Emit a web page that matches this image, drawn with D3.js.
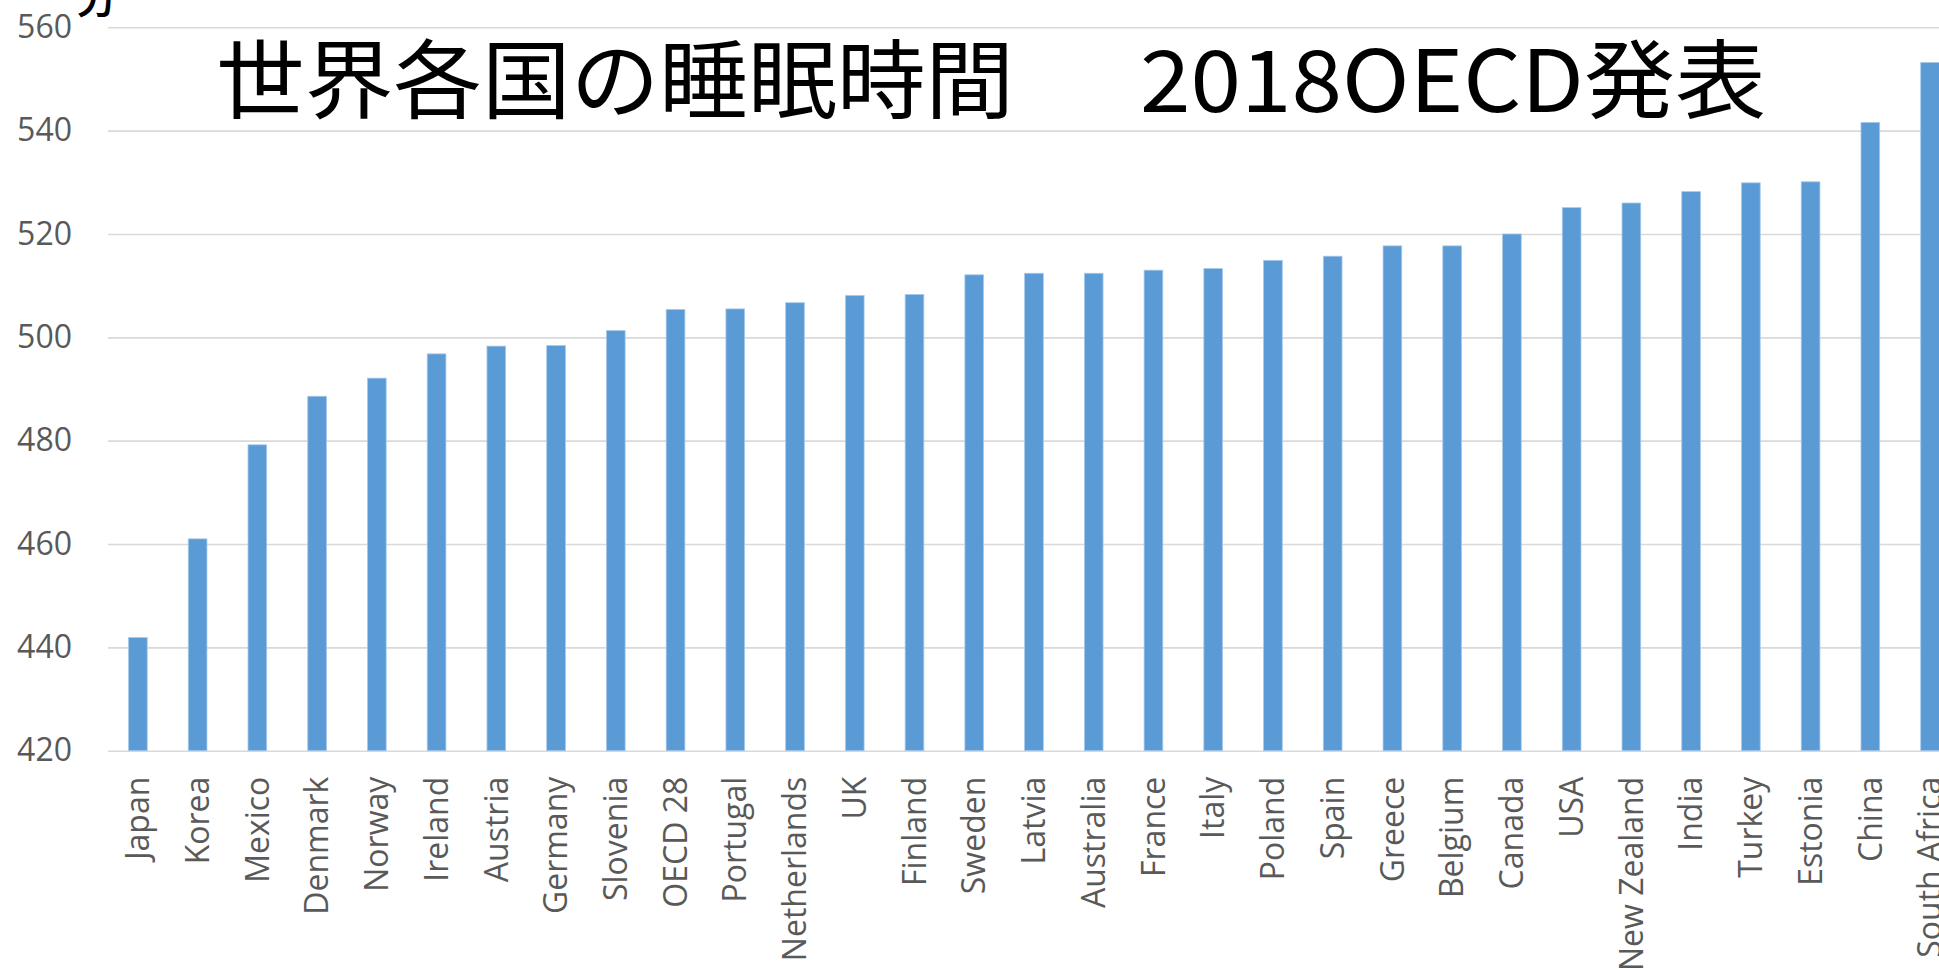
<!DOCTYPE html>
<html>
<head>
<meta charset="utf-8">
<script src="https://cdn.jsdelivr.net/npm/d3@7"></script>
<style>
  html, body { margin: 0; padding: 0; background: #fff; overflow: hidden; }
  svg { display: block; }
</style>
</head>
<body>
<svg id="chart"></svg>
<script>
const countries = [
  "Japan", "Korea", "Mexico", "Denmark", "Norway", "Ireland", "Austria", "Germany",
  "Slovenia", "OECD 28", "Portugal", "Netherlands", "UK", "Finland", "Sweden", "Latvia",
  "Australia", "France", "Italy", "Poland", "Spain", "Greece", "Belgium", "Canada",
  "USA", "New Zealand", "India", "Turkey", "Estonia", "China", "South Africa",
];
const sleepMinutes = [
  441.9, 461.0, 479.2, 488.6, 492.1, 496.8, 498.3, 498.4,
  501.3, 505.4, 505.5, 506.7, 508.1, 508.3, 512.1, 512.4,
  512.4, 513.0, 513.3, 514.9, 515.7, 517.7, 517.7, 520.0,
  525.1, 526.0, 528.2, 529.9, 530.1, 541.6, 553.2,
];
const yTicks = [420, 440, 460, 480, 500, 520, 540, 560];
const titleMain = "世界各国の睡眠時間";
const titleSub = "2018OECD発表";
const unitLabel = "分";

const width = 1939;
const height = 970;
const plotLeft = 108;
const plotTop = 27.3;
const plotBottom = 750.7;
const step = 59.74;

const svg = d3.select("#chart").attr("width", width).attr("height", height);

const x = d3
  .scaleBand()
  .domain(countries)
  .range([plotLeft, plotLeft + step * countries.length])
  .paddingInner(0.687)
  .paddingOuter(0.3435);

const y = d3.scaleLinear().domain([420, 560]).range([plotBottom, plotTop]);

// gridlines + value labels
const yAxis = svg
  .append("g")
  .attr("transform", `translate(${plotLeft},0)`)
  .call(
    d3.axisLeft(y)
      .tickValues(yTicks)
      .tickSize(-(width - plotLeft))
      .tickPadding(36)
      .tickFormat(d3.format("d")),
  );

yAxis.select(".domain").remove();
yAxis.selectAll(".tick line").attr("stroke", "#d9d9d9").attr("stroke-width", 1.6);
yAxis
  .selectAll(".tick text")
  .attr("fill", "#595959")
  .style("font-family", "'Open Sans', 'Noto Sans', sans-serif")
  .style("font-size", "32px");

// bars
svg
  .append("g")
  .selectAll("rect")
  .data(countries)
  .join("rect")
  .attr("x", (d) => x(d))
  .attr("width", x.bandwidth())
  .attr("y", (d, i) => y(sleepMinutes[i]))
  .attr("height", (d, i) => y(420) - y(sleepMinutes[i]))
  .attr("fill", "#5b9bd5")
  .attr("stroke", "#a8c9ea")
  .attr("stroke-width", 0.8);

// category labels
const xAxis = svg
  .append("g")
  .attr("transform", `translate(0,${plotBottom})`)
  .call(d3.axisBottom(x).tickSize(0).tickPadding(0));

xAxis.select(".domain").remove();
xAxis
  .selectAll(".tick text")
  .attr("transform", "rotate(-90)")
  .attr("text-anchor", "end")
  .attr("x", -26)
  .attr("y", 0)
  .attr("dy", "0.35em")
  .attr("fill", "#595959")
  .style("font-family", "'Open Sans', 'Noto Sans', sans-serif")
  .style("font-size", "32px");

// title
const titleFont = "'Noto Sans CJK JP', 'Noto Sans CJK SC', sans-serif";

svg
  .append("text")
  .attr("x", 216)
  .attr("y", 112)
  .attr("textLength", 798)
  .attr("lengthAdjust", "spacingAndGlyphs")
  .style("font-family", titleFont)
  .style("font-size", "86px")
  .attr("fill", "#000")
  .text(titleMain);

svg
  .append("text")
  .attr("x", 1140)
  .attr("y", 112)
  .attr("textLength", 626)
  .attr("lengthAdjust", "spacingAndGlyphs")
  .style("font-family", titleFont)
  .style("font-size", "86px")
  .attr("fill", "#000")
  .text(titleSub);

// unit label, cut off at the top edge
svg
  .append("text")
  .attr("x", 97)
  .attr("y", 13)
  .attr("text-anchor", "middle")
  .style("font-family", titleFont)
  .style("font-size", "44px")
  .style("font-weight", 500)
  .attr("fill", "#000")
  .text(unitLabel);
</script>
</body>
</html>
